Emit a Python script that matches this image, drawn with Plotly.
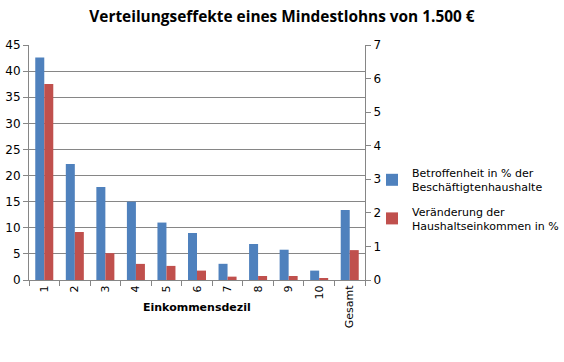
import plotly.graph_objects as go

categories = ["1", "2", "3", "4", "5", "6", "7", "8", "9", "10", "Gesamt"]
betroffenheit = [42.6, 22.2, 17.8, 15.0, 11.0, 9.0, 3.1, 6.9, 5.8, 1.8, 13.4]
veraenderung = [5.84, 1.43, 0.80, 0.48, 0.42, 0.28, 0.10, 0.12, 0.12, 0.03, 0.89]

blue = "#4F81BD"
red = "#C0504D"
axis_col = "#868686"
font_fam = "DejaVu Sans"

W, H = 564, 362
L, R, T, B = 29, 199, 45, 82
plot_w = W - L - R
plot_h = H - T - B

fig = go.Figure()
fig.add_trace(go.Bar(x=categories, y=betroffenheit, name="Betroffenheit in % der<br>Beschäftigtenhaushalte",
                     marker=dict(color=blue, line=dict(width=0)), offsetgroup="a", legendgroup="a",
                     yaxis="y"))
fig.add_trace(go.Bar(x=categories, y=veraenderung, name="Veränderung der<br>Haushaltseinkommen in %",
                     marker=dict(color=red, line=dict(width=0)), offsetgroup="b", legendgroup="b",
                     yaxis="y2"))

fig.update_layout(
    width=W, height=H,
    paper_bgcolor="white", plot_bgcolor="white",
    margin=dict(l=L, r=R, t=T, b=B, autoexpand=False),
    barmode="group", bargap=0.41, bargroupgap=0,
    font=dict(family=font_fam, size=11, color="black"),
    title=dict(text="<b>Verteilungseffekte eines Mindestlohns von 1.500 €</b>",
               x=282 / W, xanchor="center", y=1 - 17 / H, yanchor="middle",
               font=dict(family="Open Sans", size=15.4, color="black")),
    xaxis=dict(type="category", tickangle=-90, showline=True, linecolor=axis_col, linewidth=1,
               ticks="outside", ticklen=5, tickcolor=axis_col, tickson="boundaries",
               automargin=False, tickfont=dict(size=11)),
    yaxis=dict(range=[0, 45], dtick=5, showgrid=True, gridcolor=axis_col, gridwidth=1,
               showline=True, linecolor=axis_col, ticks="outside", ticklen=5, tickcolor=axis_col,
               zeroline=False, automargin=False, tickfont=dict(size=12)),
    yaxis2=dict(range=[0, 7], dtick=1, overlaying="y", side="right", showgrid=False,
                showline=True, linecolor=axis_col, ticks="outside", ticklen=5, tickcolor=axis_col,
                zeroline=False, automargin=False, tickfont=dict(size=12)),
    legend=dict(x=(372 - L) / plot_w, y=1 - (159 - T) / plot_h, xanchor="left", yanchor="top",
                font=dict(size=11), tracegroupgap=7, itemwidth=30, bgcolor="rgba(0,0,0,0)"),
    annotations=[dict(text="<b>Einkommensdezil</b>", x=0.5, xref="paper",
                      y=-(307 - (T + plot_h)) / plot_h, yref="paper", yanchor="middle",
                      showarrow=False, font=dict(size=11))],
)

fig.write_html("out.html", config={"displayModeBar": False},
               post_script="document.body.style.margin='0px';")
